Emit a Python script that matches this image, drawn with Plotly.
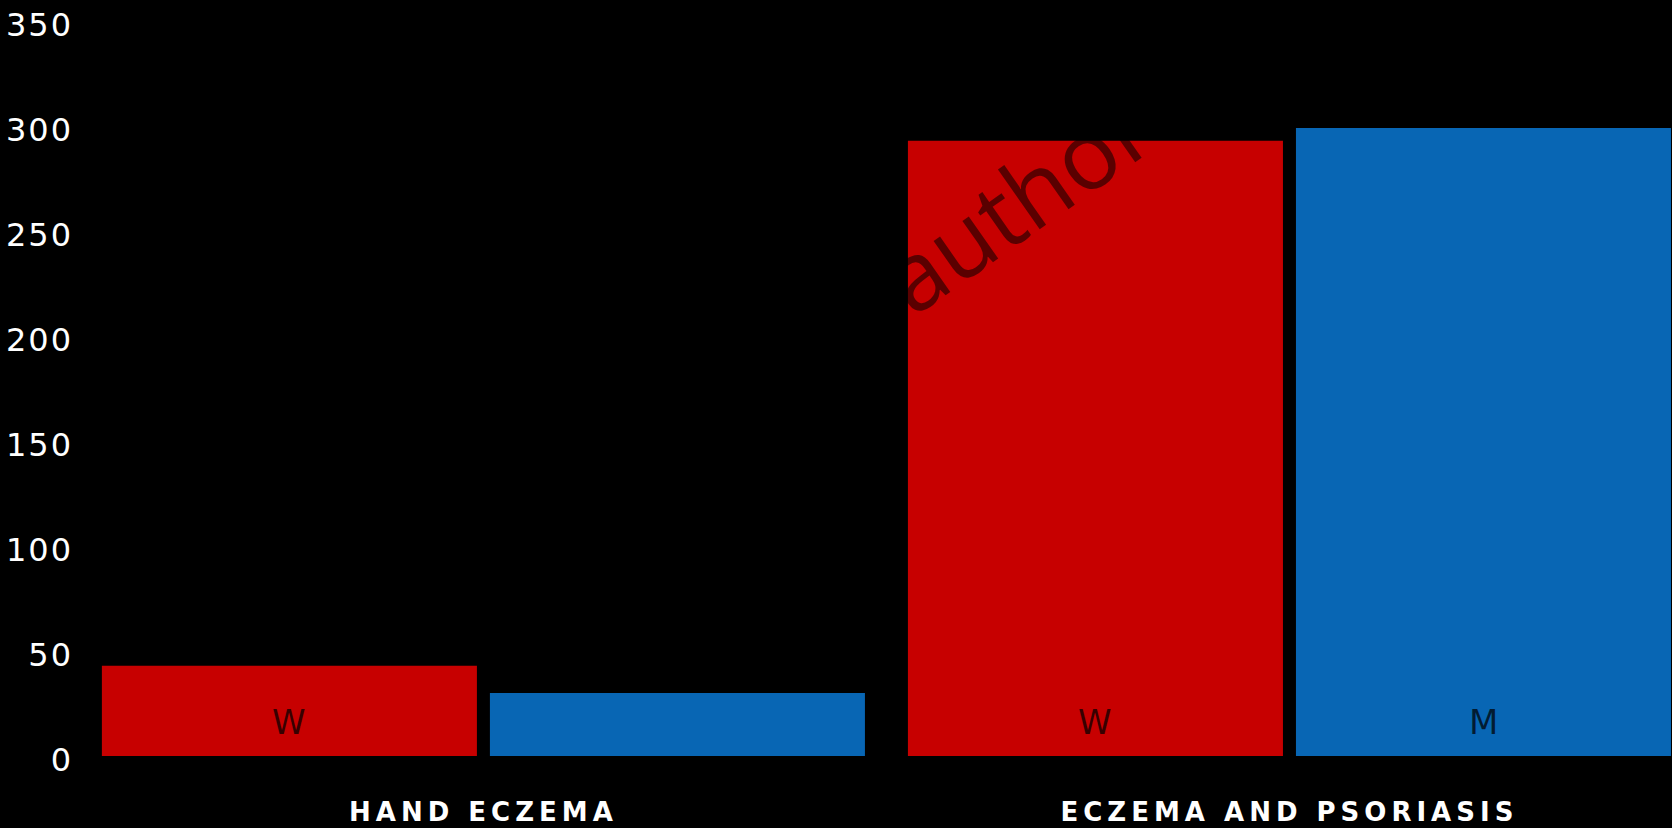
import plotly.graph_objects as go

# ---- data ----
categories = ["HAND ECZEMA", "ECZEMA AND PSORIASIS"]
women = [43, 293]
men = [30, 299]
women_labels = ["W", "W"]
men_labels = ["", "M"]
label_level = 16
y_ticks = [0, 50, 100, 150, 200, 250, 300, 350]

RED = "#c70000"
BLUE = "#0866b4"

fig = go.Figure()
fig.add_trace(go.Bar(x=categories, y=women, name="W", marker=dict(color=RED, line=dict(width=0)),
                     hoverinfo="skip"))
fig.add_trace(go.Bar(x=categories, y=men, name="M", marker=dict(color=BLUE, line=dict(width=0)),
                     hoverinfo="skip"))

slot_shift = 194
for cat, lab in zip(categories, women_labels):
    if lab:
        fig.add_annotation(x=cat, y=label_level, text=lab, showarrow=False, xshift=-slot_shift,
                           font=dict(family="DejaVu Sans", size=34, color="rgba(0,0,0,0.72)"))
for cat, lab in zip(categories, men_labels):
    if lab:
        fig.add_annotation(x=cat, y=label_level, text=lab, showarrow=False, xshift=slot_shift,
                           font=dict(family="DejaVu Sans", size=34, color="rgba(0,0,0,0.72)"))

# watermark
fig.add_annotation(xref="paper", yref="paper", x=0.587, y=0.756, xanchor="center", yanchor="middle",
                   text="author", showarrow=False, textangle=-35,
                   font=dict(family="Open Sans", size=96, color="rgba(0,0,0,0.55)"))

fig.update_layout(
    width=1672, height=828,
    paper_bgcolor="black", plot_bgcolor="black",
    margin=dict(l=82, r=0, t=21, b=72),
    barmode="group", bargap=0.0372, bargroupgap=0.0335,
    showlegend=False,
    xaxis=dict(range=[-0.498, 1.4746], showgrid=False, zeroline=False, showline=False, ticks="",
               tickfont=dict(family="DejaVu Sans", size=26, color="white", weight="bold"),
               ticklabelstandoff=38),
    yaxis=dict(range=[0, 350], tickvals=y_ticks, showgrid=False, zeroline=False, showline=False,
               ticks="", tickfont=dict(family="DejaVu Sans", size=32, color="white"),
               ticklabelstandoff=8, ticklabelshift=4),
)

post = ("var s=document.createElement('style');"
        "s.innerHTML='html,body{margin:0;padding:0;background:black;overflow:hidden}"
        ".xtick text{letter-spacing:5px}.ytick text{letter-spacing:2px}';"
        "document.head.appendChild(s);")
fig.write_html("out.html", post_script=post, config={"displayModeBar": False})
